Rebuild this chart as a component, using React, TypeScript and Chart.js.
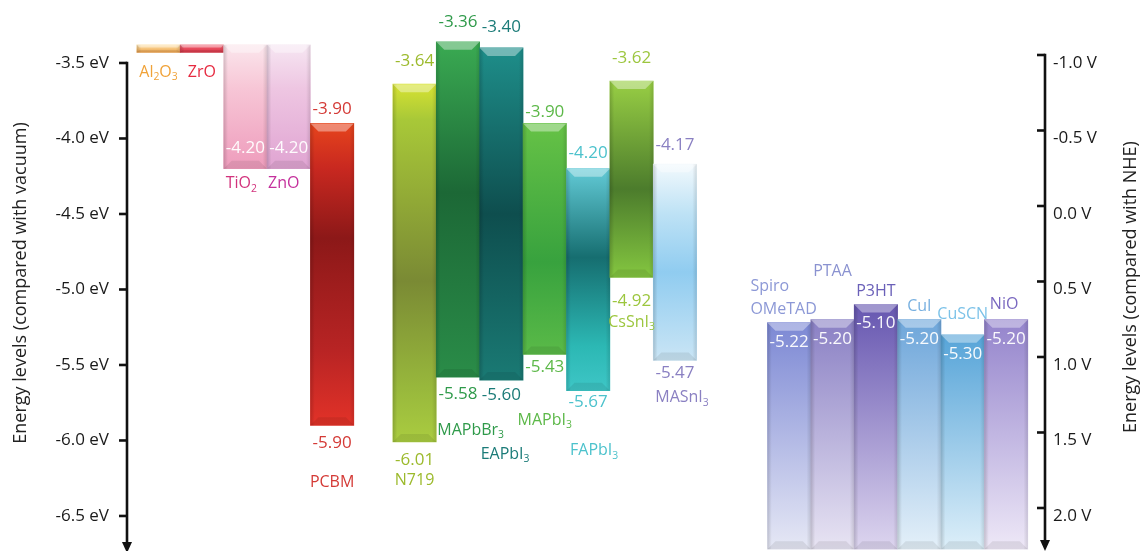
import React, { useEffect, useRef } from "react";
import { Chart, registerables } from "chart.js";

Chart.register(...registerables);

// ---------------- data ----------------
const materials = [
  "Al₂O₃", "ZrO", "TiO₂", "ZnO", "PCBM",
  "N719", "MAPbBr₃", "EAPbI₃", "MAPbI₃", "FAPbI₃", "CsSnI₃", "MASnI₃",
  "Spiro\nOMeTAD", "PTAA", "P3HT", "CuI", "CuSCN", "NiO",
];
const upperLevels = [
  -3.38, -3.38, -3.38, -3.38, -3.9,
  -3.64, -3.36, -3.4, -3.9, -4.2, -3.62, -4.17,
  -5.22, -5.2, -5.1, -5.2, -5.3, -5.2,
];
const lowerLevels = [
  -3.43, -3.43, -4.2, -4.2, -5.9,
  -6.01, -5.58, -5.6, -5.43, -5.67, -4.92, -5.47,
  -6.72, -6.72, -6.72, -6.72, -6.72, -6.72,
];
const upperLabels = [
  "", "", "", "", "-3.90",
  "-3.64", "-3.36", "-3.40", "-3.90", "-4.20", "-3.62", "-4.17",
  "-5.22", "-5.20", "-5.10", "-5.20", "-5.30", "-5.20",
];
const lowerLabels = [
  "", "", "-4.20", "-4.20", "-5.90",
  "-6.01", "-5.58", "-5.60", "-5.43", "-5.67", "-4.92", "-5.47",
  "", "", "", "", "", "",
];
const eVTicks = [-3.5, -4.0, -4.5, -5.0, -5.5, -6.0, -6.5];
const nheTicks = [-1.0, -0.5, 0.0, 0.5, 1.0, 1.5, 2.0];
const leftTitle = "Energy levels (compared with vacuum)";
const rightTitle = "Energy levels (compared with NHE)";

// ---------------- layout / style ----------------
const FONT = '"Open Sans", sans-serif';
const groupStartGaps: Record<number, number> = { 5: 0.9, 12: 1.63 };
const xPositions = materials.map((_, i) => {
  let x = i;
  Object.keys(groupStartGaps).forEach((k) => {
    if (i >= Number(k)) x += groupStartGaps[Number(k)];
  });
  return x;
});
const X_MIN = -0.726;
const X_MAX = 20.426;

const fills: [number, string][][] = [
  [[0, "#fde2ad"], [0.5, "#f6c47c"], [1, "#e99f4a"]],
  [[0, "#f27a88"], [0.5, "#e84a5c"], [1, "#d63848"]],
  [[0, "#fbe6ec"], [0.35, "#f7c6d6"], [1, "#ee9cbc"]],
  [[0, "#f6e6f2"], [0.35, "#eec6e2"], [1, "#e0a4d2"]],
  [[0, "#e6441c"], [0.15, "#c82820"], [0.38, "#8c1818"], [0.75, "#b82424"], [1, "#e23228"]],
  [[0, "#d6e232"], [0.1, "#a8c838"], [0.55, "#7a8a34"], [0.85, "#98b83c"], [1, "#aacc40"]],
  [[0, "#3aaa52"], [0.45, "#1c6836"], [1, "#2a8c48"]],
  [[0, "#1e8e8a"], [0.5, "#0e4e4e"], [1, "#1a7a74"]],
  [[0, "#66c246"], [0.6, "#38a23e"], [1, "#5aba48"]],
  [[0, "#62cad6"], [0.4, "#166e70"], [0.8, "#2cb8b4"], [1, "#3ec6c6"]],
  [[0, "#98ce44"], [0.55, "#4c7c2c"], [1, "#84c640"]],
  [[0, "#f2f9fd"], [0.25, "#bee2f5"], [0.55, "#90ccf0"], [1, "#cae5f5"]],
  [[0, "#7c88d4"], [1, "#e6e8f5"]],
  [[0, "#8a80c4"], [1, "#e8e4f3"]],
  [[0, "#6656b0"], [1, "#ddd5ef"]],
  [[0, "#6ea6da"], [1, "#e4f0f9"]],
  [[0, "#56a4d8"], [1, "#ddeff9"]],
  [[0, "#9484cc"], [1, "#eee8f7"]],
];
const textColors = [
  "#f0a238", "#e62a40", "#d2327c", "#c4309c", "#d43a36",
  "#9cba2c", "#2f9a4a", "#1b7b78", "#5cb848", "#4cc2cc", "#9cc63e", "#8a80c2",
  "#8c98d6", "#8a92d0", "#6a60b8", "#78b0e0", "#7cc2e8", "#7a68c0",
];
type Lbl = { inside?: boolean; dy: number };
type NameL = { side: "top" | "bottom"; dy: number; dx?: number; align?: "left" | "center"; lineGap?: number };
const labelLayout: { up?: Lbl; low?: Lbl; name: NameL }[] = [
  { name: { side: "bottom", dy: 20 } },
  { name: { side: "bottom", dy: 20 } },
  { low: { inside: true, dy: -21 }, name: { side: "bottom", dy: 15, dx: -4 } },
  { low: { inside: true, dy: -21 }, name: { side: "bottom", dy: 15, dx: -5 } },
  { up: { dy: -14 }, low: { dy: 18 }, name: { side: "bottom", dy: 57 } },
  { up: { dy: -23 }, low: { dy: 18 }, name: { side: "bottom", dy: 38 } },
  { up: { dy: -20 }, low: { dy: 17 }, name: { side: "bottom", dy: 53, align: "left", dx: 1 } },
  { up: { dy: -21 }, low: { dy: 15 }, name: { side: "bottom", dy: 74, align: "left", dx: 1 } },
  { up: { dy: -11 }, low: { dy: 13 }, name: { side: "bottom", dy: 66 } },
  { up: { dy: -16 }, low: { dy: 12 }, name: { side: "bottom", dy: 60, dx: 6 } },
  { up: { dy: -23 }, low: { dy: 24 }, name: { side: "bottom", dy: 45 } },
  { up: { dy: -19 }, low: { dy: 13 }, name: { side: "bottom", dy: 37, align: "left", dx: 2 } },
  { up: { inside: true, dy: 19 }, name: { side: "top", dy: -13, align: "left", dx: -17, lineGap: 23 } },
  { up: { inside: true, dy: 19 }, name: { side: "top", dy: -48 } },
  { up: { inside: true, dy: 19 }, name: { side: "top", dy: -13 } },
  { up: { inside: true, dy: 19 }, name: { side: "top", dy: -13 } },
  { up: { inside: true, dy: 19 }, name: { side: "top", dy: -20 } },
  { up: { inside: true, dy: 19 }, name: { side: "top", dy: -15, dx: -2 } },
];

const SUBS = "₀₁₂₃₄₅₆₇₈₉";
function drawRich(ctx: CanvasRenderingContext2D, s: string, x: number, y: number, size: number, align: string, color: string) {
  const segs: { t: string; sub: boolean; w: number }[] = [];
  for (const ch of s) {
    const k = SUBS.indexOf(ch);
    const sub = k >= 0;
    const c = sub ? String(k) : ch;
    const last = segs[segs.length - 1];
    if (last && last.sub === sub) last.t += c;
    else segs.push({ t: c, sub, w: 0 });
  }
  let total = 0;
  segs.forEach((sg) => {
    ctx.font = `${sg.sub ? size * 0.65 : size}px ${FONT}`;
    sg.w = ctx.measureText(sg.t).width;
    total += sg.w;
  });
  let cx = align === "left" ? x : x - total / 2;
  ctx.textAlign = "left";
  ctx.textBaseline = "middle";
  ctx.fillStyle = color;
  segs.forEach((sg) => {
    ctx.font = `${sg.sub ? size * 0.65 : size}px ${FONT}`;
    ctx.fillText(sg.t, cx, y + (sg.sub ? size * 0.32 : 0));
    cx += sg.w;
  });
}

const decorPlugin = {
  id: "decor",
  afterDatasetsDraw(chart: any) {
    const ctx: CanvasRenderingContext2D = chart.ctx;
    const ca = chart.chartArea;
    const meta = chart.getDatasetMeta(0);
    ctx.save();
    ctx.beginPath();
    ctx.rect(ca.left, ca.top, ca.right - ca.left, ca.bottom - ca.top);
    ctx.clip();
    meta.data.forEach((el: any) => {
      const p = el.getProps(["x", "y", "base", "width"], true);
      const top = Math.min(p.y, p.base);
      const bot = Math.max(p.y, p.base);
      const l = p.x - p.width / 2;
      const r = p.x + p.width / 2;
      const h = bot - top;
      const bev = Math.min(8, h / 3);
      const hg = ctx.createLinearGradient(l, 0, r, 0);
      hg.addColorStop(0, "rgba(0,0,0,0.16)");
      hg.addColorStop(0.1, "rgba(0,0,0,0)");
      hg.addColorStop(0.9, "rgba(0,0,0,0)");
      hg.addColorStop(1, "rgba(0,0,0,0.12)");
      ctx.fillStyle = hg;
      ctx.fillRect(l, top, p.width, h);
      ctx.beginPath();
      ctx.moveTo(l, top);
      ctx.lineTo(r, top);
      ctx.lineTo(r - bev, top + bev);
      ctx.lineTo(l + bev, top + bev);
      ctx.closePath();
      ctx.fillStyle = "rgba(255,255,255,0.38)";
      ctx.fill();
      ctx.beginPath();
      ctx.moveTo(l, bot);
      ctx.lineTo(r, bot);
      ctx.lineTo(r - bev, bot - bev);
      ctx.lineTo(l + bev, bot - bev);
      ctx.closePath();
      ctx.fillStyle = "rgba(0,0,0,0.08)";
      ctx.fill();
    });
    ctx.restore();

    // labels
    ctx.save();
    meta.data.forEach((el: any, i: number) => {
      const p = el.getProps(["x", "y", "base", "width"], true);
      const top = Math.min(p.y, p.base);
      const bot = Math.min(Math.max(p.y, p.base), ca.bottom);
      const lay = labelLayout[i];
      const col = textColors[i];
      if (upperLabels[i] && lay.up) {
        drawRich(ctx, upperLabels[i], p.x, top + lay.up.dy, 17, "center", lay.up.inside ? "rgba(255,255,255,0.95)" : col);
      }
      if (lowerLabels[i] && lay.low) {
        drawRich(ctx, lowerLabels[i], p.x, bot + lay.low.dy, 17, "center", lay.low.inside ? "rgba(255,255,255,0.95)" : col);
      }
      const n = lay.name;
      const lines = materials[i].split("\n");
      const align = n.align || "center";
      const nx = align === "left" ? p.x - p.width / 2 + (n.dx || 0) : p.x + (n.dx || 0);
      const baseY = n.side === "top" ? top + n.dy : bot + n.dy;
      const gap = n.lineGap || 20;
      lines.forEach((ln, k) => {
        const yy = n.side === "top" ? baseY - (lines.length - 1 - k) * gap : baseY + k * gap;
        drawRich(ctx, ln, nx, yy, 16, align, col);
      });
    });
    ctx.restore();
  },
  afterDraw(chart: any) {
    const ctx: CanvasRenderingContext2D = chart.ctx;
    const ca = chart.chartArea;
    const ys = chart.scales.y;
    const y2 = chart.scales.y2;
    ctx.save();
    ctx.strokeStyle = "#111";
    ctx.fillStyle = "#111";
    ctx.lineWidth = 2.6;
    ctx.lineCap = "butt";
    const drawAxis = (x: number, topPx: number, bottomPx: number) => {
      ctx.beginPath();
      ctx.moveTo(x, topPx - 1.3);
      ctx.lineTo(x, bottomPx - 8);
      ctx.stroke();
      ctx.beginPath();
      ctx.moveTo(x - 5, bottomPx - 10);
      ctx.lineTo(x + 5, bottomPx - 10);
      ctx.lineTo(x, bottomPx + 1);
      ctx.closePath();
      ctx.fill();
    };
    const lx = ca.left;
    drawAxis(lx, ys.getPixelForValue(eVTicks[0]), ca.bottom + 1);
    eVTicks.forEach((v) => {
      const py = ys.getPixelForValue(v);
      ctx.beginPath();
      ctx.moveTo(lx - 8, py);
      ctx.lineTo(lx, py);
      ctx.stroke();
    });
    const rx = ca.right;
    drawAxis(rx, y2.getPixelForValue(nheTicks[0]), ca.bottom - 1);
    nheTicks.forEach((v) => {
      const py = y2.getPixelForValue(v);
      ctx.beginPath();
      ctx.moveTo(rx - 8, py);
      ctx.lineTo(rx, py);
      ctx.stroke();
    });
    // titles
    ctx.fillStyle = "#222";
    ctx.font = `18px ${FONT}`;
    ctx.textAlign = "center";
    ctx.textBaseline = "middle";
    ctx.save();
    ctx.translate(21, 283);
    ctx.rotate(-Math.PI / 2);
    ctx.fillText(leftTitle, 0, 0);
    ctx.restore();
    ctx.save();
    ctx.translate(1131, 287);
    ctx.rotate(-Math.PI / 2);
    ctx.fillText(rightTitle, 0, 0);
    ctx.restore();
    ctx.restore();
  },
};

function barFill(c: any) {
  const chart = c.chart;
  const i = c.dataIndex;
  const stops = fills[i] || [[0, "#999"], [1, "#999"]];
  if (!chart.chartArea || !chart.scales || !chart.scales.y || i === undefined) return stops[0][1];
  const ys = chart.scales.y;
  const t = ys.getPixelForValue(upperLevels[i]);
  const b = Math.min(ys.getPixelForValue(lowerLevels[i]), chart.chartArea.bottom);
  if (!isFinite(t) || !isFinite(b) || b - t < 0.5) return stops[0][1];
  const g = chart.ctx.createLinearGradient(0, t, 0, b);
  stops.forEach(([o, col]) => g.addColorStop(o, col));
  return g;
}

export default function App() {
  const ref = useRef<HTMLCanvasElement>(null);
  useEffect(() => {
    if (!ref.current) return;
    const chart = new Chart(ref.current, {
      type: "bar",
      data: {
        datasets: [
          {
            data: materials.map((_, i) => ({ x: xPositions[i], y: [lowerLevels[i], upperLevels[i]] })) as any,
            backgroundColor: barFill as any,
            borderWidth: 0,
            borderSkipped: false,
            barPercentage: 1,
            categoryPercentage: 1,
            grouped: false,
          } as any,
        ],
      },
      plugins: [decorPlugin as any],
      options: {
        responsive: false,
        animation: false,
        layout: { padding: 0, autoPadding: false } as any,
        plugins: { legend: { display: false }, tooltip: { enabled: false }, title: { display: false } },
        scales: {
          x: {
            type: "linear",
            display: false,
            offset: false,
            min: X_MIN,
            max: X_MAX,
            afterBuildTicks: (s: any) => {
              s.ticks = [{ value: X_MIN }, { value: X_MAX }];
            },
          },
          y: {
            type: "linear",
            position: "left",
            min: -6.732,
            max: -3.0828,
            afterBuildTicks: (s: any) => {
              s.ticks = eVTicks.map((v) => ({ value: v }));
            },
            ticks: {
              callback: (v: any) => `${Number(v).toFixed(1)} eV`,
              padding: 18,
              color: "#1a1a1a",
              font: { family: FONT, size: 17 },
            },
            grid: { display: false, drawTicks: false },
            border: { display: false },
            afterFit: (s: any) => {
              s.width = 127;
              s.paddingTop = 0;
              s.paddingBottom = 0;
            },
          },
          y2: {
            type: "linear",
            position: "right",
            reverse: true,
            min: -1.3642,
            max: 2.2848,
            afterBuildTicks: (s: any) => {
              s.ticks = nheTicks.map((v) => ({ value: v }));
            },
            ticks: {
              callback: (v: any) => `${Number(v).toFixed(1)} V`,
              padding: 8,
              labelOffset: 8,
              color: "#1a1a1a",
              font: { family: FONT, size: 17 },
            },
            grid: { display: false, drawTicks: false },
            border: { display: false },
            afterFit: (s: any) => {
              s.width = 96;
              s.paddingTop = 0;
              s.paddingBottom = 0;
            },
          },
        },
      } as any,
    });
    return () => chart.destroy();
  }, []);
  return (
    <div style={{ position: "absolute", left: 0, top: 0, width: 1141, height: 551, background: "#fff" }}>
      <canvas ref={ref} width={1141} height={551} style={{ display: "block", width: 1141, height: 551 }} />
    </div>
  );
}
